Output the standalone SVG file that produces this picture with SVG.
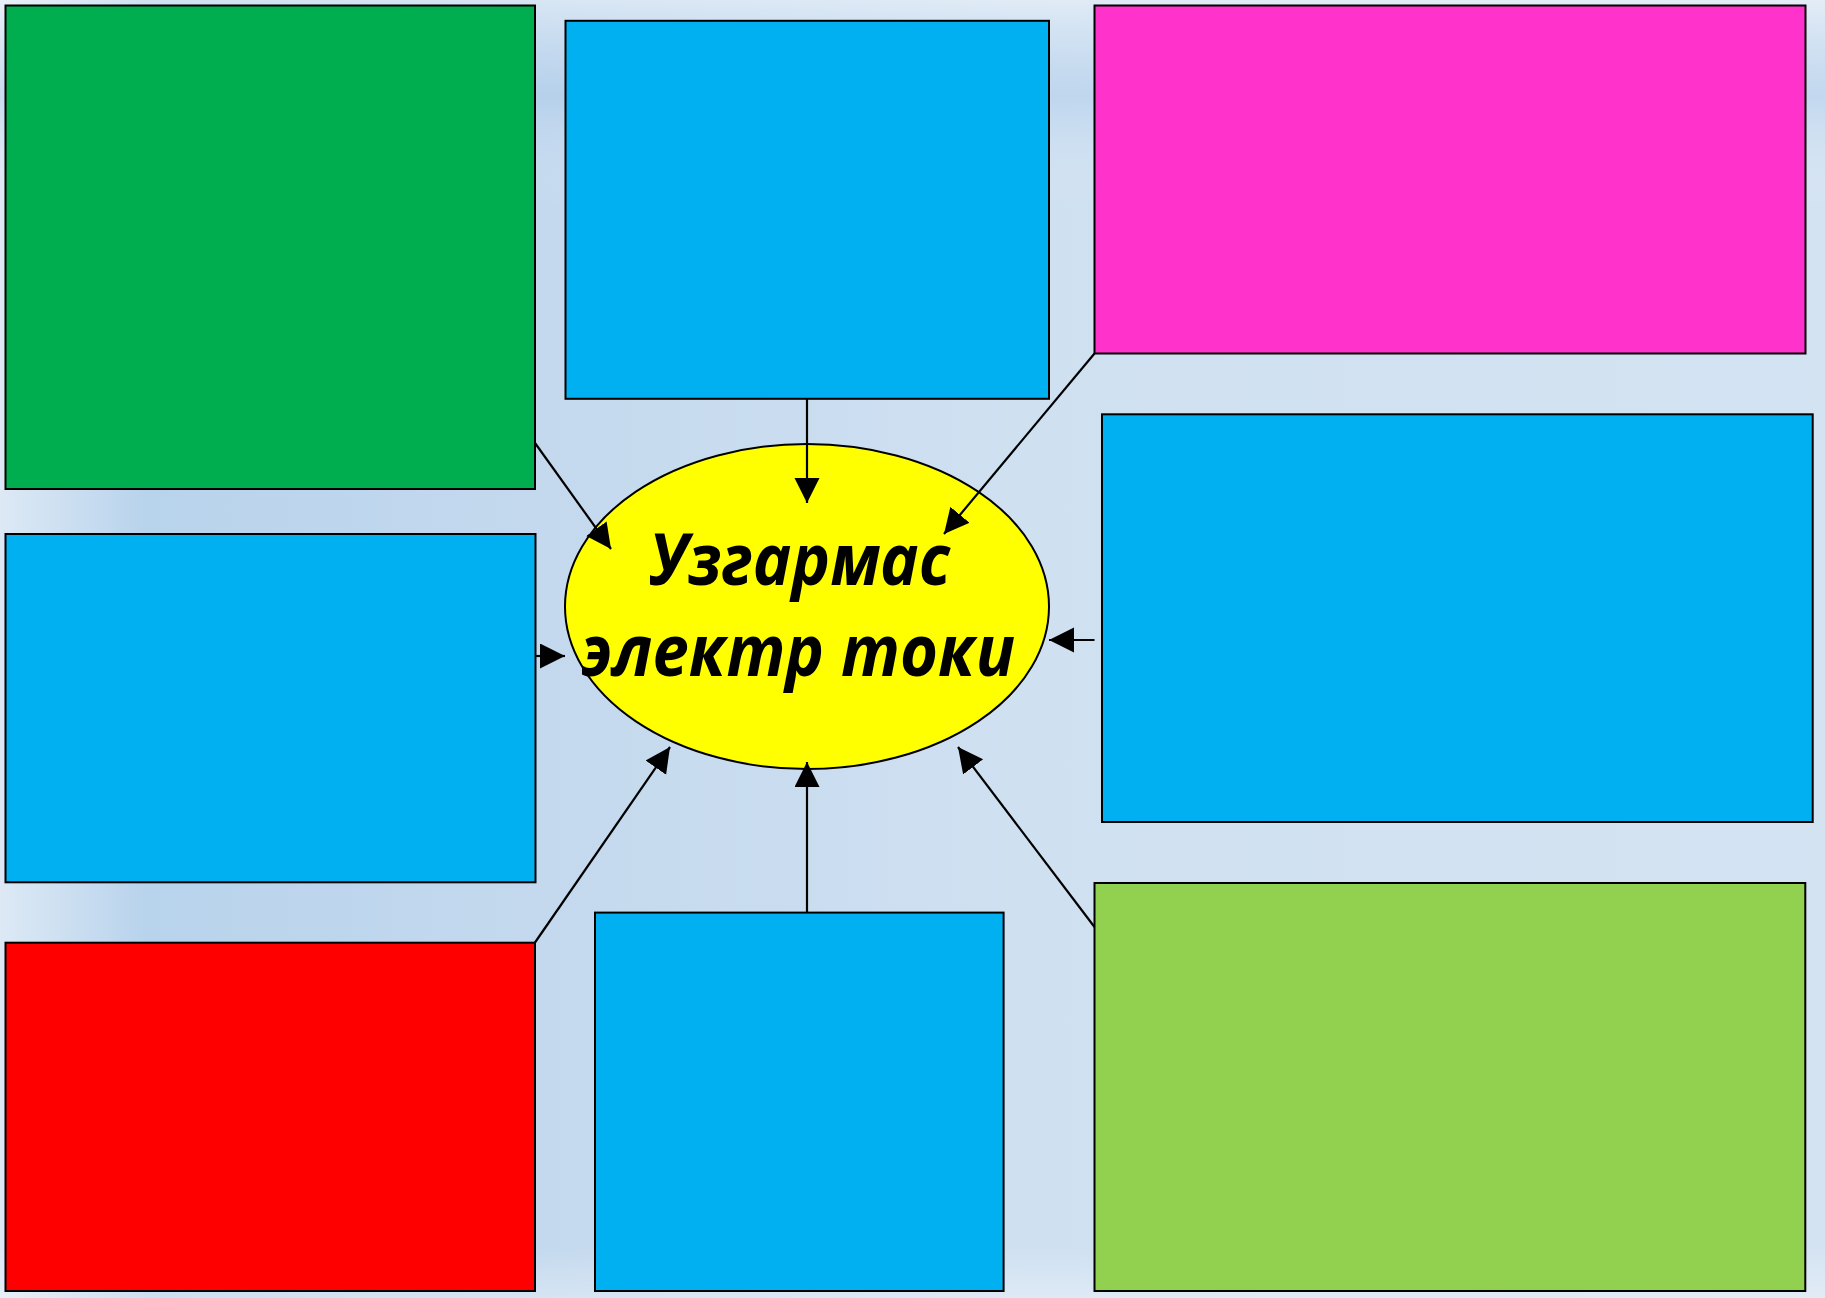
<svg xmlns="http://www.w3.org/2000/svg" width="1825" height="1298" viewBox="0 0 1825 1298">
<defs>
<linearGradient id="bgH" x1="0" y1="0" x2="1" y2="0">
<stop offset="0" stop-color="#dde9f5"/>
<stop offset="0.08" stop-color="#b8d3ec"/>
<stop offset="0.3" stop-color="#c4d9ee"/>
<stop offset="0.55" stop-color="#cfe0f1"/>
<stop offset="1" stop-color="#d4e3f2"/>
</linearGradient>
<linearGradient id="bgV" x1="0" y1="0" x2="0" y2="1">
<stop offset="0" stop-color="#ffffff" stop-opacity="0.35"/>
<stop offset="0.075" stop-color="#8fb8e2" stop-opacity="0.25"/>
<stop offset="0.16" stop-color="#ffffff" stop-opacity="0"/>
<stop offset="0.96" stop-color="#ffffff" stop-opacity="0"/>
<stop offset="1" stop-color="#ffffff" stop-opacity="0.3"/>
</linearGradient>
<marker id="arr" markerUnits="userSpaceOnUse" markerWidth="26" markerHeight="26" refX="25" refY="12.5" orient="auto" viewBox="0 0 26 26">
<path d="M0,0 L25,12.5 L0,25 z" fill="#000"/>
</marker>
</defs>
<style>
.box{stroke:#000;stroke-width:2}
.con{stroke:#000;stroke-width:2.2;fill:none;marker-end:url(#arr)}
.lbl{font-family:"Open Sans","Noto Sans","DejaVu Sans",sans-serif;font-weight:bold;font-style:italic;font-size:72px;fill:#000}
</style>
<rect width="1825" height="1298" fill="url(#bgH)"/>
<rect width="1825" height="1298" fill="url(#bgV)"/>

<g id="node-green"><rect class="box" x="5.5" y="5.5" width="529.5" height="483.5" fill="#00ad4f"/></g>
<g id="node-top-blue"><rect class="box" x="565.5" y="20.8" width="483.5" height="378" fill="#00b0f0"/></g>
<g id="node-magenta"><rect class="box" x="1094.5" y="5.5" width="711" height="348" fill="#ff33cc"/></g>
<g id="node-right-blue"><rect class="box" x="1102" y="414.3" width="710.7" height="407.7" fill="#00b0f0"/></g>
<g id="node-left-blue"><rect class="box" x="5.5" y="534" width="530" height="348.3" fill="#00b0f0"/></g>
<g id="node-red"><rect class="box" x="5.5" y="942.7" width="529.5" height="348.3" fill="#ff0000"/></g>
<g id="node-bottom-blue"><rect class="box" x="595" y="912.6" width="408.6" height="378.4" fill="#00b0f0"/></g>
<g id="node-light-green"><rect class="box" x="1094.5" y="883" width="710.8" height="408" fill="#92d050"/></g>

<g id="node-center">
<ellipse class="box" cx="807" cy="606.5" rx="242" ry="162.5" fill="#ffff00"/>
<text class="lbl" x="649" y="585" textLength="301" lengthAdjust="spacingAndGlyphs">Узгармас</text>
<text class="lbl" x="581" y="676" textLength="434" lengthAdjust="spacingAndGlyphs">электр токи</text>
</g>

<g id="connectors">
<line class="con" x1="535" y1="443" x2="611" y2="549"/>
<line class="con" x1="807" y1="399" x2="807" y2="503"/>
<line class="con" x1="1094.5" y1="353.5" x2="944" y2="534"/>
<line class="con" x1="1094.5" y1="640" x2="1049" y2="640"/>
<line class="con" x1="535" y1="656" x2="565" y2="656"/>
<line class="con" x1="535" y1="942.5" x2="670" y2="747"/>
<line class="con" x1="807" y1="912.5" x2="807" y2="762"/>
<line class="con" x1="1094.5" y1="927" x2="958" y2="747"/>
</g>
</svg>
